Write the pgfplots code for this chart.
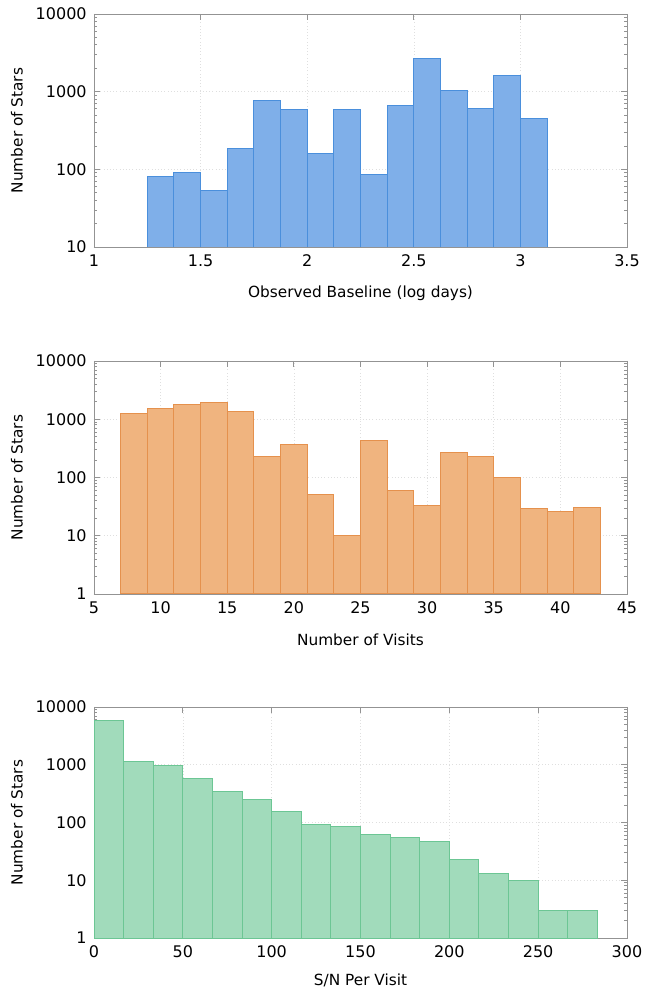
\documentclass[border=0pt]{standalone}
\usepackage{pgfplots}
\pgfplotsset{compat=1.18}
\usepackage{fontspec}
\setmainfont{DejaVu Sans}

\definecolor{bluefill}{HTML}{7FAFE9}
\definecolor{blueedge}{HTML}{4A8FDC}
\definecolor{orangefill}{HTML}{F0B47F}
\definecolor{orangeedge}{HTML}{E5914D}
\definecolor{greenfill}{HTML}{A1DBBB}
\definecolor{greenedge}{HTML}{6CC694}

% one histogram panel, 1px = 0.75pt
\pgfplotsset{
  histpanel/.style={
    scale only axis,
    width=399.75pt,
    ymax=10000,
    axis line style={gray!85}, tick style={gray!85, line width=0.6pt},
    major tick length=4.5pt, minor tick length=2.25pt,
    xmajorgrids, ymajorgrids,
    major grid style={dotted, gray!25},
    font=\fontsize{11.5}{13}\selectfont,
    tick label style={font=\fontsize{12}{13}\selectfont},
    /pgf/number format/assume math mode=true,
    /pgf/number format/1000 sep={},
    ytick={1,10,100,1000,10000},
    yticklabels={1,10,100,1000,10000},
    ylabel={Number of Stars},
    xlabel style={at={(axis description cs:0.5,-0.197)}, anchor=center},
    ylabel style={at={(axis description cs:-0.1445,0.5)}, anchor=center},
    xticklabel style={yshift=-2pt},
    yticklabel style={xshift=-2pt},
  },
}

\begin{document}
\begin{tikzpicture}
\path[use as bounding box] (0,0) rectangle (489pt,742.5pt);

\begin{axis}[ymode=log, histpanel, at={(70.5pt,557.25pt)}, height=174.75pt,
  xmin=1, xmax=3.5, ymin=10,
  xtick={1,1.5,2,2.5,3,3.5},
  xlabel={Observed Baseline (log days)}]
\addplot[ybar interval, fill=bluefill, draw=blueedge, line width=0.75pt]
  coordinates {
  (1.25,80) (1.375,92) (1.5,53) (1.625,188) (1.75,759) (1.875,593)
  (2.0,162) (2.125,598) (2.25,87) (2.375,660) (2.5,2634) (2.625,1050)
  (2.75,616) (2.875,1607) (3.0,453) (3.125,453)
  };
\end{axis}

\begin{axis}[ymode=log, histpanel, at={(70.5pt,297pt)}, height=174.75pt,
  xmin=5, xmax=45, ymin=1,
  xtick={5,10,...,45},
  xlabel={Number of Visits}]
\addplot[ybar interval, fill=orangefill, draw=orangeedge, line width=0.75pt]
  coordinates {
  (7,1244) (9,1516) (11,1775) (13,1922) (15,1364) (17,227)
  (19,365) (21,52) (23,10) (25,427) (27,61) (29,33)
  (31,266) (33,230) (35,99) (37,29) (39,26) (41,30) (43,30)
  };
\end{axis}

\begin{axis}[ymode=log, histpanel, at={(70.5pt,39pt)}, height=173.25pt,
  xmin=0, xmax=300, ymin=1,
  xtick={0,50,...,300},
  xlabel={S/N Per Visit},
  xlabel style={at={(axis description cs:0.5,-0.183)}}]
\addplot[ybar interval, fill=greenfill, draw=greenedge, line width=0.75pt]
  coordinates {
  (0,5790) (16.667,1138) (33.333,958) (50,569) (66.667,339) (83.333,246)
  (100,158) (116.667,91) (133.333,86) (150,63) (166.667,56) (183.333,46)
  (200,23) (216.667,13) (233.333,10) (250,3) (266.667,3) (283.333,3)
  };
\end{axis}
\end{tikzpicture}
\end{document}
